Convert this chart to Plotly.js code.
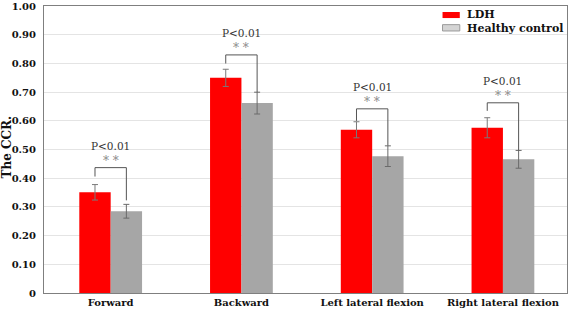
<!DOCTYPE html>
<html>
<head>
<meta charset="utf-8">
<script src="https://cdn.plot.ly/plotly-3.0.1.min.js"></script>
<style>html,body{margin:0;padding:0;background:#fff;}#chart{width:572px;height:310px;}</style>
</head>
<body>
<div id="chart"></div>
<script>
var categories = ['Forward', 'Backward', 'Left lateral flexion', 'Right lateral flexion'];
var ldhValues = [0.351, 0.750, 0.569, 0.576];
var ldhErrors = [0.027, 0.030, 0.028, 0.035];
var hcValues = [0.285, 0.662, 0.477, 0.466];
var hcErrors = [0.024, 0.038, 0.036, 0.031];
var seriesNames = ['LDH', 'Healthy control'];
var bracketTop = [0.437, 0.830, 0.642, 0.663];
var bracketLeftEnd = [0.406, 0.800, 0.600, 0.635];
var bracketRightEnd = [0.323, 0.700, 0.514, 0.497];
var pLabels = ['P<0.01', 'P<0.01', 'P<0.01', 'P<0.01'];
var starLabels = ['* *', '* *', '* *', '* *'];
var yTickVals = [0, 0.1, 0.2, 0.3, 0.4, 0.5, 0.6, 0.7, 0.8, 0.9, 1.0];
var yTickText = ['0', '0.10', '0.20', '0.30', '0.40', '0.50', '0.60', '0.70', '0.80', '0.90', '1.00'];

var serif = 'DejaVu Serif';
var bargap = 0.52;
var half = (1 - bargap) / 4;

var traces = [
  {type: 'bar', name: seriesNames[0], x: categories, y: ldhValues,
   marker: {color: '#ff0000', line: {width: 0}},
   error_y: {type: 'data', array: ldhErrors, visible: true, color: '#7a7a7a', thickness: 1, width: 3}},
  {type: 'bar', name: seriesNames[1], x: categories, y: hcValues,
   marker: {color: '#a6a6a6', line: {width: 0}},
   error_y: {type: 'data', array: hcErrors, visible: true, color: '#6a6a6a', thickness: 1, width: 3}}
];

var shapes = [];
var annotations = [];
for (var i = 0; i < categories.length; i++) {
  var xl = i - half, xr = i + half;
  shapes.push({type: 'path', xref: 'x', yref: 'y',
    path: 'M ' + xl + ' ' + bracketLeftEnd[i] + ' L ' + xl + ' ' + bracketTop[i] +
          ' L ' + xr + ' ' + bracketTop[i] + ' L ' + xr + ' ' + bracketRightEnd[i],
    line: {color: '#555555', width: 1}});
  annotations.push({xref: 'x', yref: 'y', x: i, y: bracketTop[i] + 0.024, text: starLabels[i],
    showarrow: false, yanchor: 'middle', font: {family: serif, size: 12, color: '#8a8a8a'}});
  annotations.push({xref: 'x', yref: 'y', x: i, y: bracketTop[i] + 0.077, text: pLabels[i],
    showarrow: false, yanchor: 'middle', font: {family: serif, size: 10.5, color: '#333333'}});
}
// y-axis title
annotations.push({xref: 'paper', yref: 'paper', x: -0.071, y: 0.51, text: 'The CCR.', textangle: -90,
  showarrow: false, xanchor: 'center', yanchor: 'middle', font: {family: serif, size: 12, color: '#111', weight: 'bold'}});
// custom legend
shapes.push({type: 'rect', xref: 'paper', yref: 'paper', x0: 0.762, x1: 0.795, y0: 0.958, y1: 0.979,
  fillcolor: '#ff0000', line: {width: 0}});
shapes.push({type: 'rect', xref: 'paper', yref: 'paper', x0: 0.762, x1: 0.795, y0: 0.913, y1: 0.935,
  fillcolor: '#d4d4d4', line: {width: 1, color: '#9a9a9a'}});
annotations.push({xref: 'paper', yref: 'paper', x: 0.805, y: 0.970, text: seriesNames[0], showarrow: false,
  xanchor: 'left', yanchor: 'middle', font: {family: serif, size: 11, color: '#111', weight: 'bold'}});
annotations.push({xref: 'paper', yref: 'paper', x: 0.805, y: 0.922, text: seriesNames[1], showarrow: false,
  xanchor: 'left', yanchor: 'middle', font: {family: serif, size: 11, color: '#111', weight: 'bold'}});

var layout = {
  width: 572, height: 310,
  margin: {l: 44, r: 5, t: 6, b: 17, pad: 0},
  paper_bgcolor: '#ffffff', plot_bgcolor: '#ffffff',
  barmode: 'group', bargap: bargap, bargroupgap: 0,
  showlegend: false,
  xaxis: {type: 'category', range: [-0.51, 3.49], showgrid: false, zeroline: false,
    showline: true, linecolor: '#7f7f7f', linewidth: 1, mirror: true, ticks: '',
    tickfont: {family: serif, size: 10, color: '#111', weight: 'bold'}, automargin: false},
  yaxis: {range: [0, 1.0005], tickvals: yTickVals, ticktext: yTickText, showgrid: true,
    gridcolor: '#e4e4e4', gridwidth: 1, zeroline: false, showline: true, linecolor: '#7f7f7f',
    linewidth: 1, mirror: true, ticks: '', ticklabelstandoff: 5, ticklabeloverflow: 'allow',
    tickfont: {family: serif, size: 10, color: '#111', weight: 'bold'}, automargin: false},
  shapes: shapes,
  annotations: annotations,
  font: {family: serif}
};

Plotly.newPlot('chart', traces, layout, {displayModeBar: false, staticPlot: true});
</script>
</body>
</html>
